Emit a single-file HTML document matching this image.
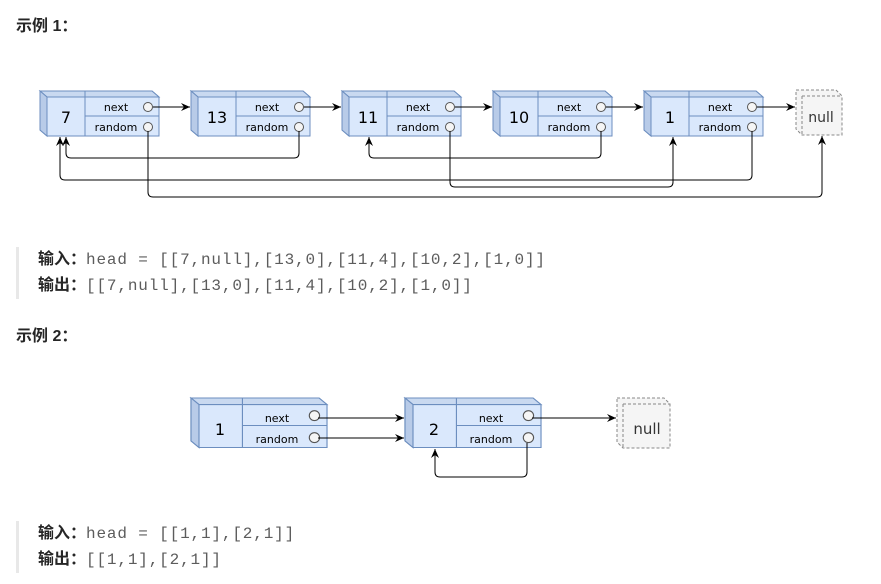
<!DOCTYPE html>
<html><head><meta charset="utf-8"><style>
body{margin:0;background:#fff;width:881px;height:584px;overflow:hidden;position:relative;font-family:"Liberation Sans","Noto Sans CJK SC",sans-serif}
.h{position:absolute;left:16px;font-weight:bold;font-size:16px;color:#262626}
.q{position:absolute;left:16px;border-left:3px solid #e8e8e8;padding-left:19px;font-size:16px;line-height:25px;color:#5c5c5c;font-family:"Liberation Mono","Noto Sans CJK SC",monospace;letter-spacing:0.85px}
.q b{color:#262626;font-family:"Liberation Sans","Noto Sans CJK SC",sans-serif;letter-spacing:0}
svg{position:absolute;left:0;top:0}
svg text{font-family:"Comic Sans MS","DejaVu Sans",sans-serif}
</style></head><body>
<div class="h" style="top:12px">示例 1：</div>
<div class="q" style="top:247px"><b>输入：</b>head = [[7,null],[13,0],[11,4],[10,2],[1,0]]<br><b>输出：</b>[[7,null],[13,0],[11,4],[10,2],[1,0]]</div>
<div class="h" style="top:322px">示例 2：</div>
<div class="q" style="top:521px"><b>输入：</b>head = [[1,1],[2,1]]<br><b>输出：</b>[[1,1],[2,1]]</div>
<svg width="881" height="584" viewBox="0 0 881 584">
<defs>
<g id="nd">
<path d="M0,0 L112,0 L119,6 L119,45 L7,45 L0,39 Z" fill="#dae8fc" stroke="#6c8ebf"/>
<path d="M0,0 L112,0 L119,6 L7,6 Z" fill="#c9d9f0" stroke="#6c8ebf"/>
<path d="M0,0 L7,6 L7,45 L0,39 Z" fill="#b8cbe8" stroke="#6c8ebf"/>
<line x1="45" y1="0" x2="45" y2="45" stroke="#6c8ebf"/>
<line x1="45" y1="25" x2="119" y2="25" stroke="#6c8ebf"/>
<circle cx="108" cy="16" r="4.5" fill="#f5f5f5" stroke="#555"/>
<circle cx="108" cy="36" r="4.5" fill="#f5f5f5" stroke="#555"/>
</g>
<marker id="ar" markerWidth="10" markerHeight="10" refX="9" refY="5" orient="auto" markerUnits="userSpaceOnUse"><path d="M0,1 L9,5 L0,9 L3,5 Z" fill="#000"/></marker>
</defs>
<g font-size="11" text-anchor="middle">
<g transform="translate(40,91)"><use href="#nd"/><text x="26" y="32" font-size="16">7</text><text x="76" y="20">next</text><text x="76" y="40">random</text></g>
<g transform="translate(191,91)"><use href="#nd"/><text x="26" y="32" font-size="16">13</text><text x="76" y="20">next</text><text x="76" y="40">random</text></g>
<g transform="translate(342,91)"><use href="#nd"/><text x="26" y="32" font-size="16">11</text><text x="76" y="20">next</text><text x="76" y="40">random</text></g>
<g transform="translate(493,91)"><use href="#nd"/><text x="26" y="32" font-size="16">10</text><text x="76" y="20">next</text><text x="76" y="40">random</text></g>
<g transform="translate(644,91)"><use href="#nd"/><text x="26" y="32" font-size="16">1</text><text x="76" y="20">next</text><text x="76" y="40">random</text></g>
<g transform="translate(191,398) scale(1.143,1.1)"><use href="#nd"/></g>
<text x="220" y="435" font-size="16">1</text><text x="277" y="422">next</text><text x="277" y="443">random</text>
<g transform="translate(405,398) scale(1.143,1.1)"><use href="#nd"/></g>
<text x="434" y="435" font-size="16">2</text><text x="491" y="422">next</text><text x="491" y="443">random</text>
</g>
<g fill="#f5f5f5" stroke="#888" stroke-dasharray="3,2">
<path d="M796,90 L836,90 L842,96 L842,135 L802,135 L796,129 Z"/>
<path d="M802,96 L842,96 M802,96 L802,135" fill="none"/>
<path d="M617,398 L664,398 L670,404 L670,448 L623,448 L617,442 Z"/>
<path d="M623,404 L670,404 M623,404 L623,448" fill="none"/>
</g>
<text x="821" y="122" font-size="14" text-anchor="middle" fill="#333">null</text>
<text x="647" y="434" font-size="15" text-anchor="middle" fill="#333">null</text>
<g fill="none" stroke="#000" stroke-width="1" marker-end="url(#ar)">
<path d="M153,107 H190"/><path d="M304,107 H341"/><path d="M455,107 H492"/><path d="M606,107 H643"/><path d="M757,107 H795"/>
<path d="M299,131 V153 Q299,158 294,158 H71 Q66,158 66,153 V137"/>
<path d="M148,131 V192 Q148,197 153,197 H817 Q822,197 822,192 V136"/>
<path d="M450,131 V182 Q450,187 455,187 H668 Q673,187 673,182 V137"/>
<path d="M601,131 V153 Q601,158 596,158 H374 Q369,158 369,153 V137"/>
<path d="M752,131 V175 Q752,180 747,180 H65 Q60,180 60,175 V137"/>
<path d="M318,418 H404"/><path d="M318,438 H404"/><path d="M532,418 H616"/>
<path d="M527,443 V472 Q527,477 522,477 H440 Q435,477 435,472 V449"/>
</g>
</svg>
</body></html>
